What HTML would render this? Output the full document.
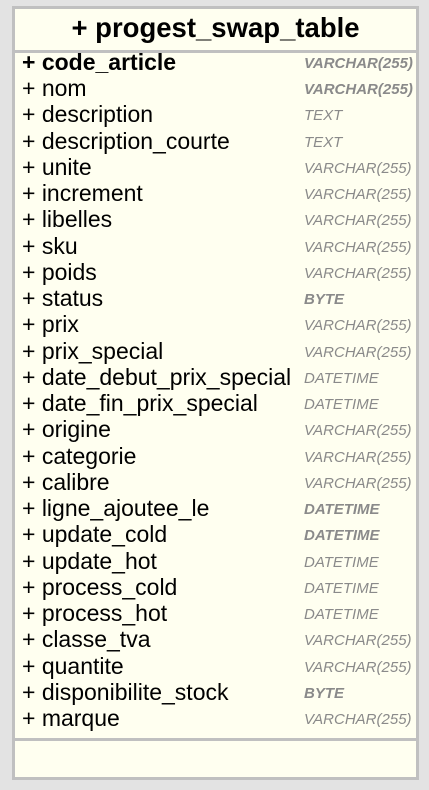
<!DOCTYPE html>
<html><head><meta charset="utf-8"><style>
body{margin:0;width:429px;height:790px;background:#e3e3e3;position:relative;font-family:"Liberation Sans",sans-serif;overflow:hidden}
.box{position:absolute;left:12px;top:6px;width:401px;height:768px;border:3px solid #c0c0c0;background:#fffff0}
.title{position:absolute;left:0;right:0;top:-2px;height:41px;line-height:41px;text-align:center;font-weight:bold;font-size:27.5px;color:#000}
.hr{position:absolute;left:0;right:0;height:3px;background:#c0c0c0}
.r{position:absolute;left:7px;height:26px;line-height:26px;font-size:23px;color:#000;white-space:nowrap}
.t{position:absolute;left:289px;height:26px;line-height:26px;font-size:15px;font-style:italic;color:#8a8a8a;white-space:nowrap}
.b{font-weight:bold}
</style></head><body>
<div class="box">
<div class="title">+ progest_swap_table</div>
<div class="hr" style="top:41px"></div>
<div class="hr" style="top:729px"></div>
<div id="rows"></div>
</div>
<script>
var d=[["code_article","VARCHAR(255)",1,1],["nom","VARCHAR(255)",0,1],["description","TEXT"],["description_courte","TEXT"],["unite","VARCHAR(255)"],["increment","VARCHAR(255)"],["libelles","VARCHAR(255)"],["sku","VARCHAR(255)"],["poids","VARCHAR(255)"],["status","BYTE",0,1],["prix","VARCHAR(255)"],["prix_special","VARCHAR(255)"],["date_debut_prix_special","DATETIME"],["date_fin_prix_special","DATETIME"],["origine","VARCHAR(255)"],["categorie","VARCHAR(255)"],["calibre","VARCHAR(255)"],["ligne_ajoutee_le","DATETIME",0,1],["update_cold","DATETIME",0,1],["update_hot","DATETIME"],["process_cold","DATETIME"],["process_hot","DATETIME"],["classe_tva","VARCHAR(255)"],["quantite","VARCHAR(255)"],["disponibilite_stock","BYTE",0,1],["marque","VARCHAR(255)"]];
var h="";for(var i=0;i<d.length;i++){var y=(40+26.24*i).toFixed(2);
h+='<div class="r'+(d[i][2]?' b':'')+'" style="top:'+y+'px">+ '+d[i][0]+'</div><div class="t'+(d[i][3]?' b':'')+'" style="top:'+(+y+2)+'px">'+d[i][1]+'</div>';}
document.getElementById("rows").innerHTML=h;
</script>
</body></html>
